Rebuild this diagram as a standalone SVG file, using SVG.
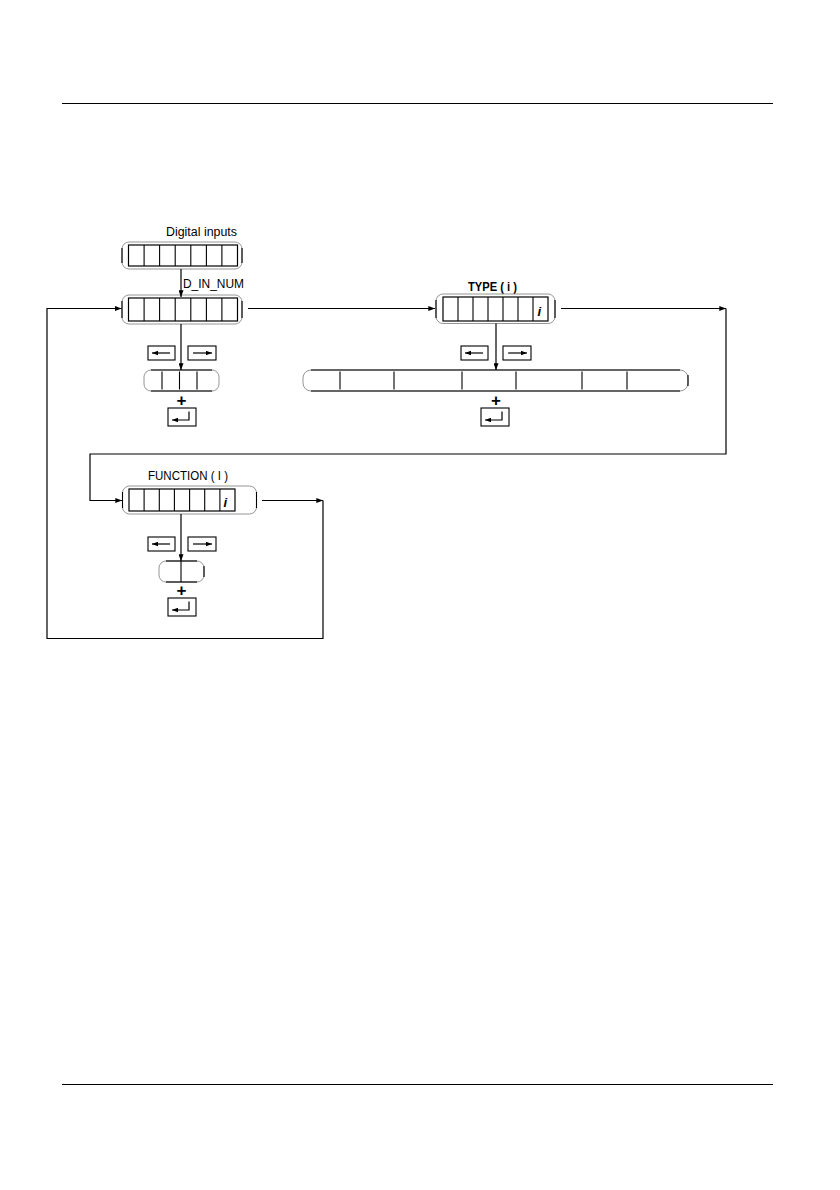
<svg xmlns="http://www.w3.org/2000/svg" width="840" height="1190" viewBox="0 0 840 1190">
<style>
.ln{stroke:#000;stroke-width:1.2;fill:none}
.cap{stroke:#8a8a8a;stroke-width:0.9;fill:none}
.bx{stroke:#000;stroke-width:1.2;fill:none}
.dv{stroke:#000;stroke-width:1.1}
.btn{stroke:#000;stroke-width:1.1;fill:#fff}
.t{font-family:"Liberation Sans",Arial,sans-serif;font-size:12px;fill:#000}
.tb{font-family:"Liberation Sans",Arial,sans-serif;font-size:12px;font-weight:bold;fill:#000}
.ii{font-family:"Liberation Sans",Arial,sans-serif;font-size:13px;font-style:italic;font-weight:bold;fill:#000}
.plus{font-family:"Liberation Sans",Arial,sans-serif;font-size:17px;font-weight:bold;fill:#000}
</style>
<defs>
<marker id="ah" viewBox="0 0 8 6" refX="8" refY="3" markerWidth="7" markerHeight="5" orient="auto" markerUnits="userSpaceOnUse"><path d="M0,0 L8,3 L0,6 z" fill="#000"/></marker>
<marker id="sa" viewBox="0 0 8 6" refX="8" refY="3" markerWidth="6" markerHeight="5" orient="auto" markerUnits="userSpaceOnUse"><path d="M0,0 L8,3 L0,6 z" fill="#000"/></marker>
<g id="btnL"><rect class="btn" x="0" y="0" width="27" height="14"/><line class="ln" x1="22" y1="7" x2="4" y2="7" marker-end="url(#sa)"/></g>
<g id="btnR"><rect class="btn" x="0" y="0" width="28" height="14"/><line class="ln" x1="5" y1="7" x2="24" y2="7" marker-end="url(#sa)"/></g>
<g id="enter"><rect class="btn" x="0" y="0" width="28" height="18"/><polyline class="ln" points="21,3.5 21,12 4,12" marker-end="url(#sa)"/></g>
</defs>
<rect width="840" height="1190" fill="#fff"/>

<line x1="62" y1="103.5" x2="773" y2="103.5" stroke="#000" stroke-width="1.2"/>
<line x1="62" y1="1084.5" x2="773" y2="1084.5" stroke="#000" stroke-width="1.2"/>

<g id="digital-inputs">
<text class="t" x="166" y="236" textLength="71" lengthAdjust="spacingAndGlyphs">Digital inputs</text>
<rect class="cap" x="122" y="242" width="120" height="27" rx="7"/>
<line class="dv" x1="122" y1="248" x2="122" y2="263"/><line class="dv" x1="242" y1="248" x2="242" y2="263"/>
<rect class="bx" x="128.5" y="245" width="109" height="21"/>
<path class="dv" d="M144.1,245V266M159.6,245V266M175.2,245V266M190.8,245V266M206.4,245V266M221.9,245V266"/>
</g>

<g id="d-in-num">
<text class="t" x="183" y="288" textLength="61" lengthAdjust="spacingAndGlyphs">D_IN_NUM</text>
<rect class="cap" x="122" y="295" width="120" height="29" rx="7"/>
<line class="dv" x1="122" y1="301" x2="122" y2="318"/><line class="dv" x1="242" y1="301" x2="242" y2="318"/>
<rect class="bx" x="128.5" y="298" width="109" height="23"/>
<path class="dv" d="M144.1,298V321M159.6,298V321M175.2,298V321M190.8,298V321M206.4,298V321M221.9,298V321"/>
</g>

<g id="d-in-num-select">
<use href="#btnL" x="148" y="346"/>
<use href="#btnR" x="188" y="346"/>
<rect class="cap" x="144" y="370" width="75" height="21" rx="7"/>
<line class="dv" x1="151" y1="370" x2="212" y2="370"/><line class="dv" x1="151" y1="391" x2="212" y2="391"/>
<path class="dv" d="M162,371.5V389.5M179.5,371.5V389.5M197,371.5V389.5"/>
<text class="plus" x="181.5" y="406" text-anchor="middle">+</text>
<use href="#enter" x="168" y="408"/>
</g>

<g id="type-i">
<text class="tb" x="468" y="291" textLength="49" lengthAdjust="spacingAndGlyphs">TYPE ( i )</text>
<rect class="cap" x="436" y="294" width="119" height="29.5" rx="7"/>
<line class="dv" x1="436" y1="300" x2="436" y2="318"/><line class="dv" x1="555" y1="300" x2="555" y2="318"/>
<rect class="bx" x="443" y="297" width="105" height="24"/>
<path class="dv" d="M458,297V321M473,297V321M488,297V321M503,297V321M518,297V321M533,297V321"/>
<text class="ii" x="537.5" y="316">i</text>
</g>

<g id="type-select">
<use href="#btnL" x="461" y="346"/>
<use href="#btnR" x="503" y="346"/>
<rect class="cap" x="303" y="370" width="385" height="21" rx="8"/>
<line class="dv" x1="311" y1="370" x2="680" y2="370"/><line class="dv" x1="311" y1="391" x2="680" y2="391"/>
<line class="dv" x1="688" y1="375" x2="688" y2="386"/>
<path class="dv" d="M340,371.5V389.5M394,371.5V389.5M462,371.5V389.5M516,371.5V389.5M582,371.5V389.5M627,371.5V389.5"/>
<text class="plus" x="496" y="406" text-anchor="middle">+</text>
<use href="#enter" x="481" y="408"/>
</g>

<g id="function-i">
<text class="t" x="148" y="480" textLength="80" lengthAdjust="spacingAndGlyphs">FUNCTION ( I )</text>
<rect class="cap" x="122.5" y="486" width="134" height="28" rx="7"/>
<line class="dv" x1="122.5" y1="492" x2="122.5" y2="508"/><line class="dv" x1="256.5" y1="492" x2="256.5" y2="508"/>
<rect class="bx" x="129" y="489" width="106" height="22"/>
<path class="dv" d="M144.1,489V511M159.3,489V511M174.4,489V511M189.6,489V511M204.7,489V511M219.9,489V511"/>
<text class="ii" x="223.5" y="507">i</text>
</g>

<g id="function-select">
<use href="#btnL" x="148" y="537"/>
<use href="#btnR" x="188" y="537"/>
<rect class="cap" x="159" y="561" width="45" height="21" rx="7"/>
<line class="dv" x1="166" y1="561" x2="197" y2="561"/><line class="dv" x1="166" y1="582" x2="197" y2="582"/>
<line class="dv" x1="204" y1="566" x2="204" y2="577"/>
<line class="dv" x1="181" y1="561" x2="181" y2="582"/>
<text class="plus" x="181.5" y="596" text-anchor="middle">+</text>
<use href="#enter" x="168" y="598"/>
</g>

<g id="connectors">
<line class="ln" x1="181" y1="269" x2="181" y2="297" marker-end="url(#ah)"/>
<line class="ln" x1="181" y1="324" x2="181" y2="370" marker-end="url(#ah)"/>
<line class="ln" x1="248" y1="308.5" x2="435" y2="308.5" marker-end="url(#ah)"/>
<line class="ln" x1="496" y1="323.5" x2="496" y2="370" marker-end="url(#ah)"/>
<line class="ln" x1="561" y1="308.5" x2="726" y2="308.5" marker-end="url(#ah)"/>
<polyline class="ln" points="726,308.5 726,454 90,454 90,500.5 122,500.5" marker-end="url(#ah)"/>
<line class="ln" x1="181" y1="514" x2="181" y2="561" marker-end="url(#ah)"/>
<line class="ln" x1="262" y1="500.5" x2="323" y2="500.5" marker-end="url(#ah)"/>
<polyline class="ln" points="323,500.5 323,638.5 47,638.5 47,308.5 121.5,308.5" marker-end="url(#ah)"/>
</g>
</svg>
